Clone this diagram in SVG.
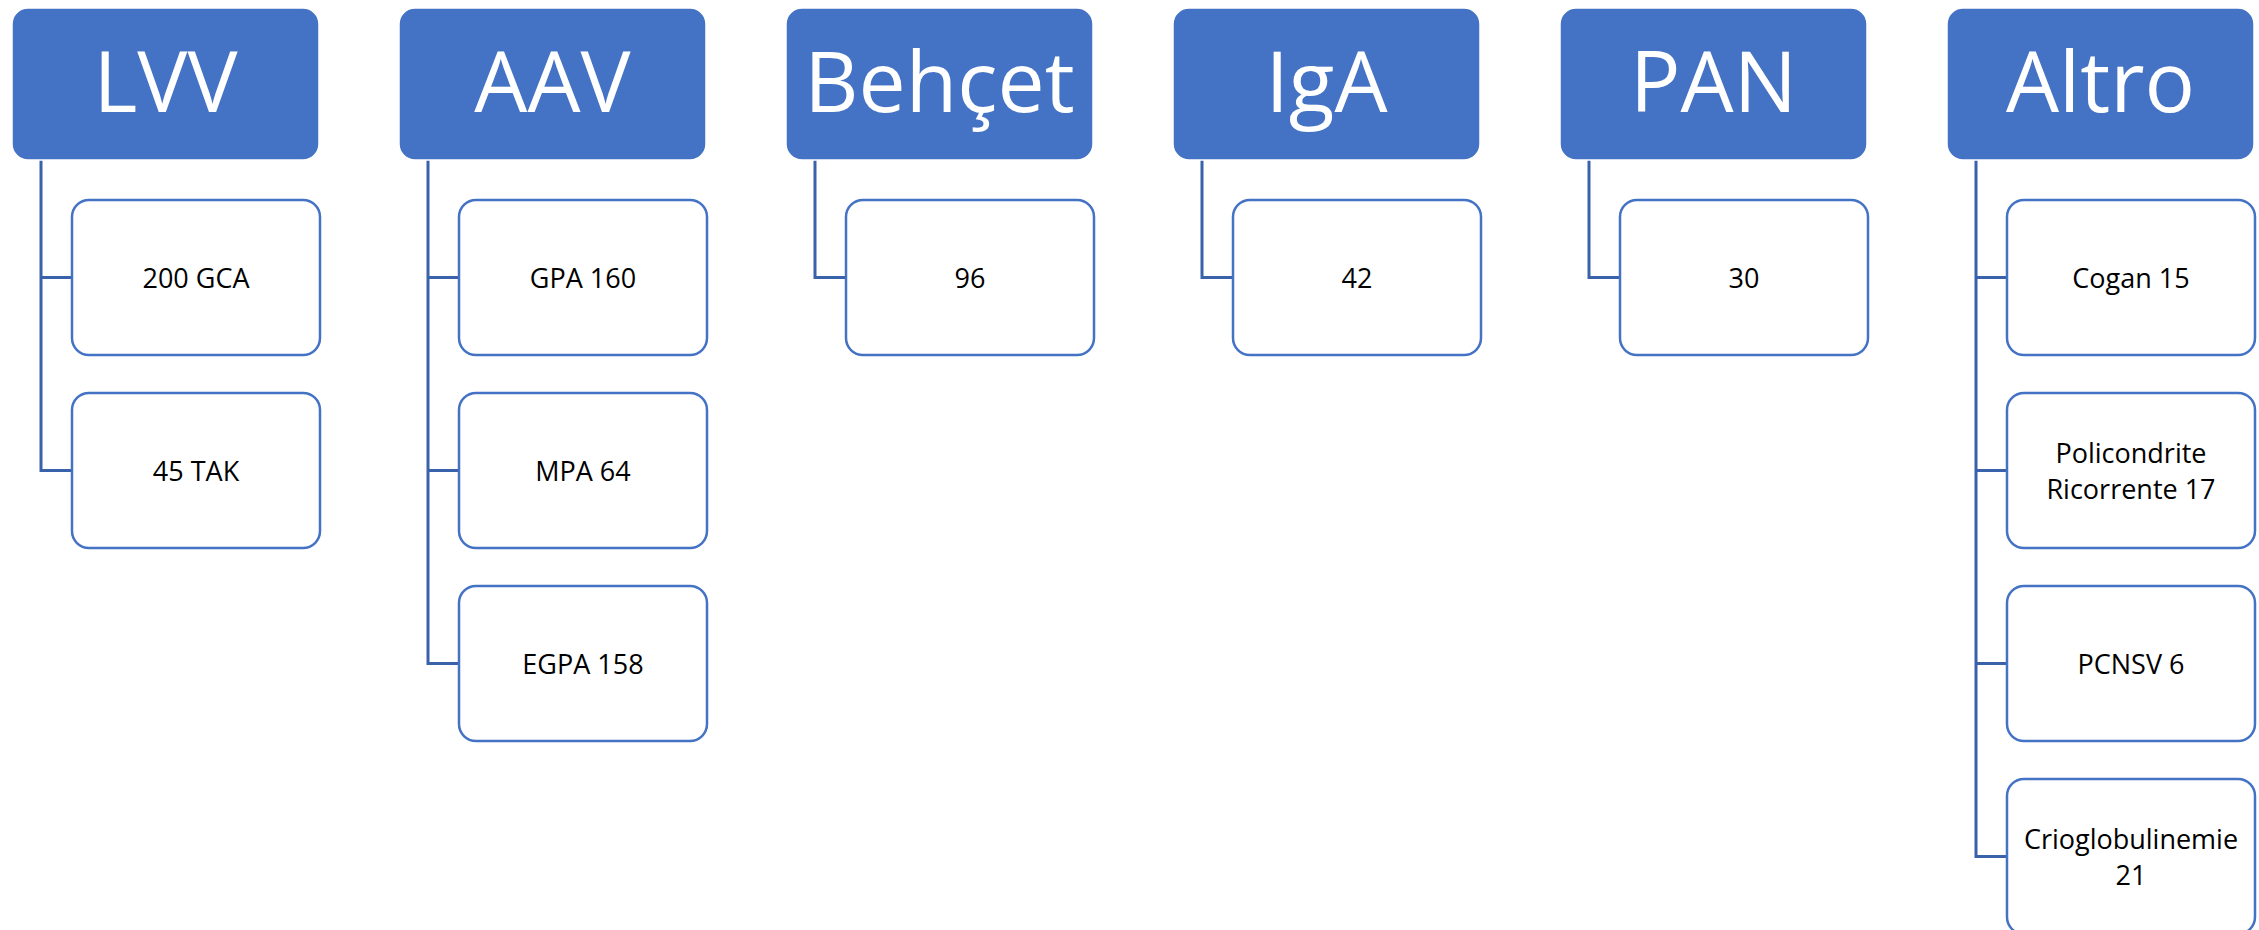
<svg xmlns="http://www.w3.org/2000/svg" width="2259" height="930" viewBox="0 0 2259 930">
<style>
.hdr{fill:#4472C4;stroke:#ffffff;stroke-width:1.5}
.ht{fill:#ffffff;font-family:"Open Sans","Noto Sans",sans-serif;font-size:84px;text-anchor:middle}
.ch{fill:#ffffff;stroke:#4472C4;stroke-width:2.5}
.ct{fill:#000000;font-family:"Open Sans","Noto Sans",sans-serif;font-size:27px;text-anchor:middle}
.cn{fill:none;stroke:#3A62AB;stroke-width:3}
</style>
<rect width="2259" height="930" fill="#ffffff"/>
<g id="connectors">
<path class="cn" d="M41,160 V470.5 H72 M41,277.5 H72"/>
<path class="cn" d="M428,160 V663.5 H459 M428,277.5 H459 M428,470.5 H459"/>
<path class="cn" d="M815,160 V277.5 H846"/>
<path class="cn" d="M1202,160 V277.5 H1233"/>
<path class="cn" d="M1589,160 V277.5 H1620"/>
<path class="cn" d="M1976,160 V856.5 H2007 M1976,277.5 H2007 M1976,470.5 H2007 M1976,663.5 H2007"/>
</g>
<g id="lvv"><rect class="hdr" x="12" y="8" width="307" height="152" rx="16"/><text class="ht" x="165.5" y="112">LVV</text></g>
<g id="lvv-gca"><rect class="ch" x="72" y="200" width="248" height="155" rx="17"/><text class="ct" x="196" y="287.5">200 GCA</text></g>
<g id="lvv-tak"><rect class="ch" x="72" y="393" width="248" height="155" rx="17"/><text class="ct" x="196" y="480.5">45 TAK</text></g>
<g id="aav"><rect class="hdr" x="399" y="8" width="307" height="152" rx="16"/><text class="ht" x="552.5" y="112">AAV</text></g>
<g id="aav-gpa"><rect class="ch" x="459" y="200" width="248" height="155" rx="17"/><text class="ct" x="583" y="287.5">GPA 160</text></g>
<g id="aav-mpa"><rect class="ch" x="459" y="393" width="248" height="155" rx="17"/><text class="ct" x="583" y="480.5">MPA 64</text></g>
<g id="aav-egpa"><rect class="ch" x="459" y="586" width="248" height="155" rx="17"/><text class="ct" x="583" y="673.5">EGPA 158</text></g>
<g id="behcet"><rect class="hdr" x="786" y="8" width="307" height="152" rx="16"/><text class="ht" x="939.5" y="112">Behçet</text></g>
<g id="behcet-96"><rect class="ch" x="846" y="200" width="248" height="155" rx="17"/><text class="ct" x="970" y="287.5">96</text></g>
<g id="iga"><rect class="hdr" x="1173" y="8" width="307" height="152" rx="16"/><text class="ht" x="1326.5" y="112">IgA</text></g>
<g id="iga-42"><rect class="ch" x="1233" y="200" width="248" height="155" rx="17"/><text class="ct" x="1357" y="287.5">42</text></g>
<g id="pan"><rect class="hdr" x="1560" y="8" width="307" height="152" rx="16"/><text class="ht" x="1713.5" y="112">PAN</text></g>
<g id="pan-30"><rect class="ch" x="1620" y="200" width="248" height="155" rx="17"/><text class="ct" x="1744" y="287.5">30</text></g>
<g id="altro"><rect class="hdr" x="1947" y="8" width="307" height="152" rx="16"/><text class="ht" x="2100.5" y="112">Altro</text></g>
<g id="altro-cogan"><rect class="ch" x="2007" y="200" width="248" height="155" rx="17"/><text class="ct" x="2131" y="287.5">Cogan 15</text></g>
<g id="altro-pr"><rect class="ch" x="2007" y="393" width="248" height="155" rx="17"/><text class="ct" x="2131" y="462.5">Policondrite</text><text class="ct" x="2131" y="498.5">Ricorrente 17</text></g>
<g id="altro-pcnsv"><rect class="ch" x="2007" y="586" width="248" height="155" rx="17"/><text class="ct" x="2131" y="673.5">PCNSV 6</text></g>
<g id="altro-crio"><rect class="ch" x="2007" y="779" width="248" height="155" rx="17"/><text class="ct" x="2131" y="848.5">Crioglobulinemie</text><text class="ct" x="2131" y="884.5">21</text></g>
</svg>
